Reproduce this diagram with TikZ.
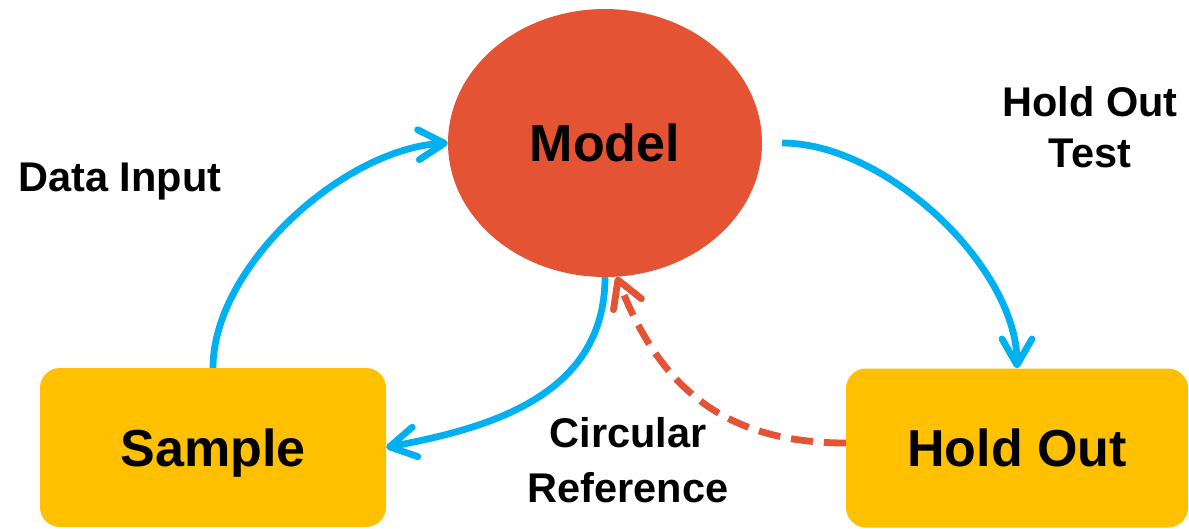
\documentclass[tikz,border=0pt]{standalone}
\usepackage{fontspec}
\setmainfont{Liberation Sans}
\usetikzlibrary{shapes.geometric,arrows.meta}
\definecolor{mred}{RGB}{228,83,52}
\definecolor{myel}{RGB}{255,192,0}
\definecolor{mblue}{RGB}{0,176,240}
\begin{document}
\begin{tikzpicture}[x=1pt,y=-1pt,
  ell/.style={ellipse, fill=mred, minimum width=314pt, minimum height=268pt, inner sep=0pt,
    font=\fontsize{52}{60}\selectfont\bfseries},
  boxnode/.style={rectangle, rounded corners=20pt, fill=myel, minimum height=159pt, inner sep=0pt,
    text depth=0pt, font=\fontsize{52}{60}\selectfont\bfseries},
  lbl/.style={inner sep=0pt, align=center, font=\fontsize{41.5}{52}\selectfont\bfseries},
  conn/.style={line width=6.8pt, -{Straight Barb[length=26pt,width=30pt,round]}},
]
\useasboundingbox[fill=white] (0,0) rectangle (1189,528);
\node[ell] (model) at (605,143) {Model};
\node[boxnode, minimum width=346pt] (sample) at (213,447.5) {Sample};
\node[boxnode, minimum width=342pt] (holdout) at (1017,448) {Hold Out};

\node[lbl, anchor=base] (datainput) at (120,191) {Data Input};
\node[lbl, font=\fontsize{41.5}{51}\selectfont\bfseries] (holdtest) at (1090,127) {Hold Out\\Test};
\node[lbl, font=\fontsize{41.5}{55}\selectfont\bfseries] (circref) at (628,460) {Circular\\Reference};

\draw[conn, mblue] (sample.north) .. controls +(0,-101) and +(-105,6) .. (model.west);
\draw[conn, mblue, shorten <=20pt] (model.east) .. controls +(125,0) and +(0,-100) .. (holdout.north);
\draw[conn, mblue] (model.south) .. controls +(0,123) and +(93,-18) .. (sample.east);
\draw[conn, mred, dash pattern=on 22pt off 11pt] ([yshift=5pt]holdout.west) .. controls +(-130,0) and +(40,102) .. (model.-85);
\end{tikzpicture}
\end{document}
